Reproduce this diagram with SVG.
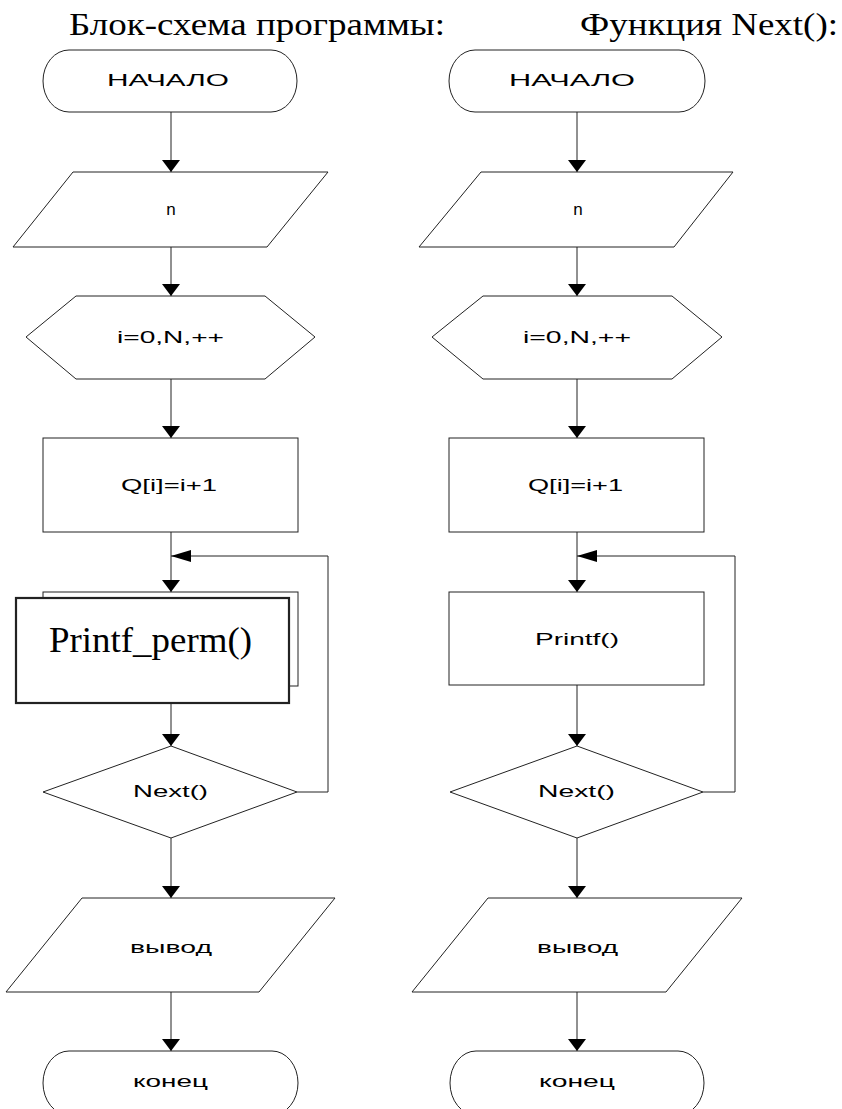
<svg xmlns="http://www.w3.org/2000/svg" width="842" height="1109" viewBox="0 0 842 1109">
<defs>
<marker id="arrV" markerUnits="userSpaceOnUse" markerWidth="12" markerHeight="18" refX="12" refY="9" orient="auto"><path d="M0,0 L12,9 L0,18 Z" fill="#000"/></marker>
<marker id="arrH" markerUnits="userSpaceOnUse" markerWidth="20" markerHeight="12" refX="20" refY="6" orient="auto"><path d="M0,0 L20,6 L0,12 Z" fill="#000"/></marker>
</defs>
<style>
.s{fill:#fff;stroke:#222;stroke-width:1}
.thick{fill:#fff;stroke:#222;stroke-width:2.2}
.l{font-family:"Liberation Sans",Arial,sans-serif;font-size:17px;fill:#000;text-anchor:middle}
.t{font-family:"Liberation Serif","Times New Roman",serif;fill:#000}
.c{fill:none;stroke:#222;stroke-width:1}
</style>
<rect width="842" height="1109" fill="#fff"/>
<g id="titles">
<text class="t" x="69" y="35" font-size="31" textLength="376" lengthAdjust="spacingAndGlyphs">Блок-схема программы:</text>
<text class="t" x="580" y="35" font-size="31" textLength="258" lengthAdjust="spacingAndGlyphs">Функция Next():</text>
</g>
<g id="connectors">
<line class="c" x1="171" y1="112" x2="171" y2="172" marker-end="url(#arrV)"/>
<line class="c" x1="171" y1="247" x2="171" y2="296" marker-end="url(#arrV)"/>
<line class="c" x1="171" y1="379" x2="171" y2="438" marker-end="url(#arrV)"/>
<line class="c" x1="171" y1="532" x2="171" y2="592" marker-end="url(#arrV)"/>
<line class="c" x1="171" y1="703" x2="171" y2="746" marker-end="url(#arrV)"/>
<line class="c" x1="171" y1="838" x2="171" y2="898" marker-end="url(#arrV)"/>
<line class="c" x1="171" y1="992" x2="171" y2="1051" marker-end="url(#arrV)"/>
<polyline class="c" points="297,792 328,792 328,556 171,556" marker-end="url(#arrH)"/>
<line class="c" x1="577" y1="112" x2="577" y2="172" marker-end="url(#arrV)"/>
<line class="c" x1="577" y1="247" x2="577" y2="296" marker-end="url(#arrV)"/>
<line class="c" x1="577" y1="379" x2="577" y2="438" marker-end="url(#arrV)"/>
<line class="c" x1="577" y1="532" x2="577" y2="592" marker-end="url(#arrV)"/>
<line class="c" x1="577" y1="685" x2="577" y2="746" marker-end="url(#arrV)"/>
<line class="c" x1="577" y1="838" x2="577" y2="898" marker-end="url(#arrV)"/>
<line class="c" x1="577" y1="992" x2="577" y2="1051" marker-end="url(#arrV)"/>
<polyline class="c" points="703,792 735,792 735,556 577,556" marker-end="url(#arrH)"/>
</g>
<g id="L-start">
<rect class="s" x="43" y="50" width="254" height="62" rx="26" ry="31"/>
<text class="l" x="168" y="86" textLength="122" lengthAdjust="spacingAndGlyphs">НАЧАЛО</text>
</g>
<g id="L-input">
<polygon class="s" points="73,172 328,172 267,247 13,247"/>
<text class="l" x="171" y="215" font-size="18">n</text>
</g>
<g id="L-loop">
<polygon class="s" points="26,337 76,296 265,296 315,337 265,379 76,379"/>
<text class="l" x="170.5" y="343" textLength="107" lengthAdjust="spacingAndGlyphs">i=0,N,++</text>
</g>
<g id="L-assign">
<rect class="s" x="43" y="438" width="255" height="94"/>
<text class="l" x="169" y="491" textLength="96" lengthAdjust="spacingAndGlyphs">Q[i]=i+1</text>
</g>
<g id="L-printf-perm">
<rect class="s" x="43" y="592" width="255" height="94"/>
<rect class="thick" x="16" y="598" width="273" height="105"/>
<text class="t" x="49" y="652" font-size="36" textLength="203" lengthAdjust="spacingAndGlyphs">Printf_perm()</text>
</g>
<g id="L-next">
<polygon class="s" points="171,746 297,792 171,838 43,792"/>
<text class="l" x="170.5" y="797" textLength="75" lengthAdjust="spacingAndGlyphs">Next()</text>
</g>
<g id="L-output">
<polygon class="s" points="82,898 335,898 259,992 6,992"/>
<text class="l" x="171" y="953" textLength="82" lengthAdjust="spacingAndGlyphs">вывод</text>
</g>
<g id="L-end">
<rect class="s" x="43" y="1051" width="255" height="64" rx="26" ry="32"/>
<text class="l" x="170.5" y="1087" textLength="75" lengthAdjust="spacingAndGlyphs">конец</text>
</g>
<g id="R-start">
<rect class="s" x="449" y="50" width="256" height="62" rx="26" ry="31"/>
<text class="l" x="572" y="86" textLength="126" lengthAdjust="spacingAndGlyphs">НАЧАЛО</text>
</g>
<g id="R-input">
<polygon class="s" points="481,172 733,172 674,247 419,247"/>
<text class="l" x="578" y="215" font-size="18">n</text>
</g>
<g id="R-loop">
<polygon class="s" points="432,337 483,296 672,296 722,337 672,379 483,379"/>
<text class="l" x="577" y="343" textLength="108" lengthAdjust="spacingAndGlyphs">i=0,N,++</text>
</g>
<g id="R-assign">
<rect class="s" x="449" y="438" width="255" height="94"/>
<text class="l" x="575.5" y="491" textLength="95" lengthAdjust="spacingAndGlyphs">Q[i]=i+1</text>
</g>
<g id="R-printf">
<rect class="s" x="449" y="592" width="255" height="93"/>
<text class="l" x="577" y="645" textLength="84" lengthAdjust="spacingAndGlyphs">Printf()</text>
</g>
<g id="R-next">
<polygon class="s" points="577,746 703,792 577,838 450,792"/>
<text class="l" x="576.5" y="797" textLength="77" lengthAdjust="spacingAndGlyphs">Next()</text>
</g>
<g id="R-output">
<polygon class="s" points="488,898 742,898 666,992 412,992"/>
<text class="l" x="577.5" y="953" textLength="81" lengthAdjust="spacingAndGlyphs">вывод</text>
</g>
<g id="R-end">
<rect class="s" x="450" y="1051" width="254" height="64" rx="26" ry="32"/>
<text class="l" x="577" y="1087" textLength="76" lengthAdjust="spacingAndGlyphs">конец</text>
</g>
</svg>
